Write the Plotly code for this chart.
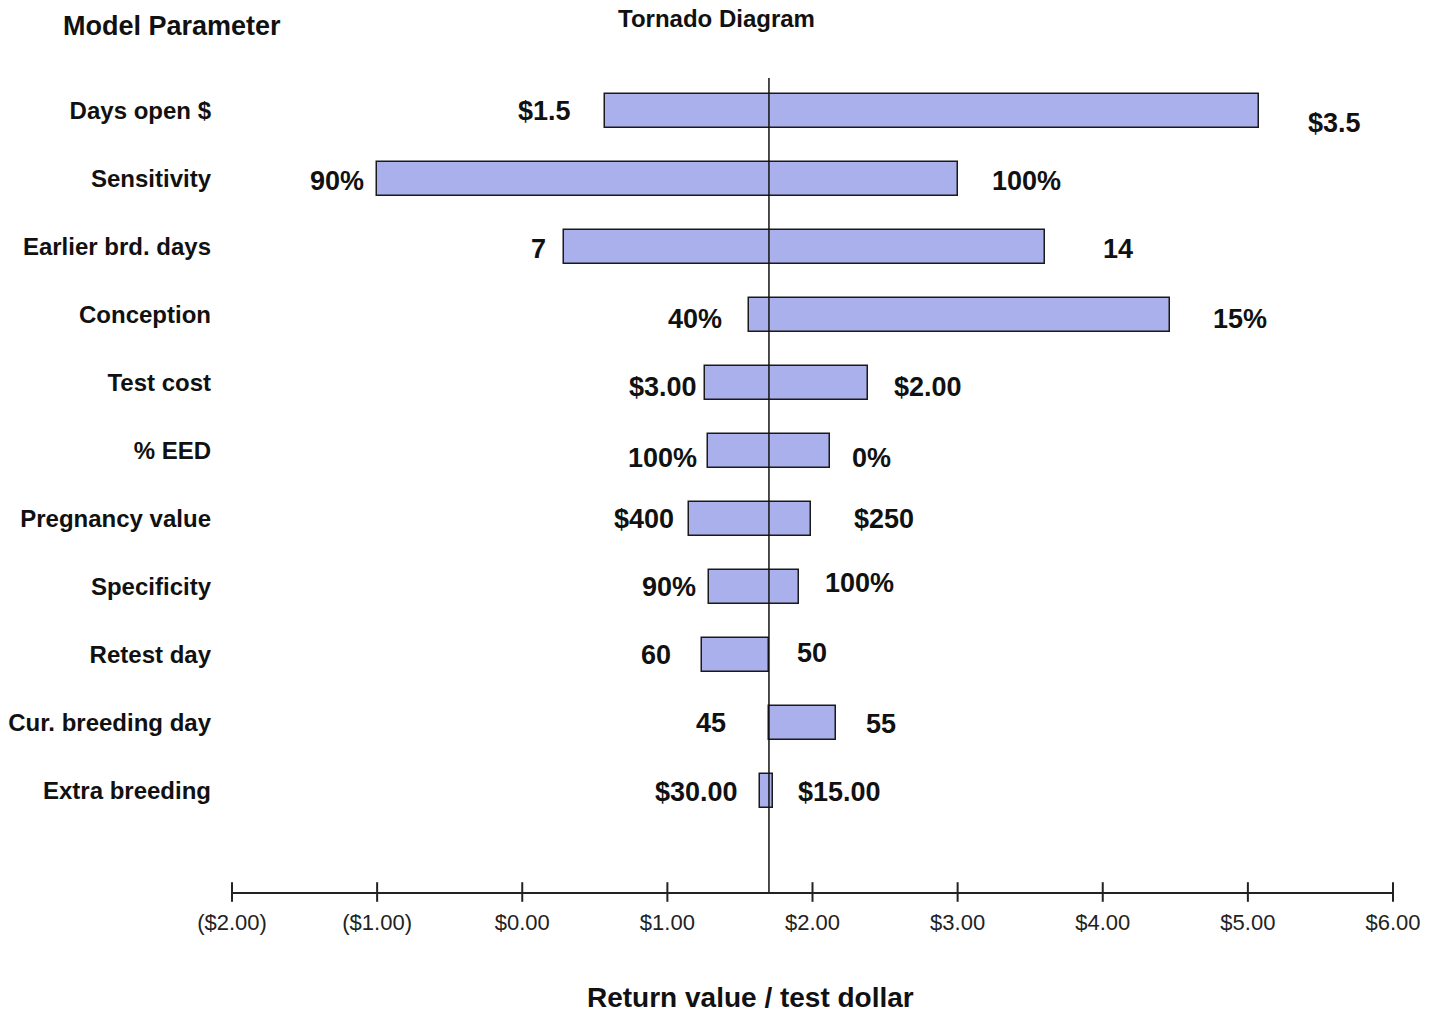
import plotly.graph_objects as go

# ---------------- data ----------------
parameters = ["Days open $", "Sensitivity", "Earlier brd. days", "Conception", "Test cost",
              "% EED", "Pregnancy value", "Specificity", "Retest day", "Cur. breeding day",
              "Extra breeding"]
left_end = [0.57, -1.00, 0.29, 1.56, 1.26, 1.28, 1.15, 1.29, 1.24, 1.70, 1.64]
right_end = [5.08, 3.00, 3.60, 4.46, 2.38, 2.12, 1.99, 1.91, 1.70, 2.16, 1.73]
left_labels = ["$1.5", "90%", "7", "40%", "$3.00", "100%", "$400", "90%", "60", "45", "$30.00"]
right_labels = ["$3.5", "100%", "14", "15%", "$2.00", "0%", "$250", "100%", "50", "55", "$15.00"]
base_value = 1.70
tick_vals = [-2, -1, 0, 1, 2, 3, 4, 5, 6]
tick_text = ["($2.00)", "($1.00)", "$0.00", "$1.00", "$2.00", "$3.00", "$4.00", "$5.00", "$6.00"]

# ---------------- styles (label offsets in px) ----------------
left_gap = [32, 11, 16, 25, 6, 9, 13, 11, 29, 41, 20]
left_dy = [0, 2, 2, 4, 4, 7, 0, 0, 0, 0, 1]
right_gap = [47, 32, 56, 41, 24, 20, 41, 24, 26, 28, 23]
right_dy = [12, 2, 2, 4, 4, 7, 0, -4, -2, 1, 1]

FONT = "Liberation Sans, Arial, Helvetica, sans-serif"

fig = go.Figure()
fig.add_trace(go.Bar(
    y=parameters,
    x=[r - l for l, r in zip(left_end, right_end)],
    base=left_end,
    orientation="h",
    width=0.49,
    marker=dict(color="#AAB0EB", line=dict(color="#1a1a1a", width=1.5)),
    showlegend=False,
    hoverinfo="skip",
))

# crossing tick marks on the x axis line (drawn on a hidden helper y axis)
fig.add_trace(go.Scatter(
    x=tick_vals, y=[0] * len(tick_vals), xaxis="x", yaxis="y2",
    mode="markers", cliponaxis=False,
    marker=dict(symbol="line-ns-open", size=14, color="#222222",
                line=dict(color="#222222", width=2)),
    showlegend=False, hoverinfo="skip",
))

annotations = []
for i, p in enumerate(parameters):
    annotations.append(dict(
        x=left_end[i], y=p, xref="x", yref="y", text=left_labels[i],
        xanchor="right", yanchor="middle", showarrow=False,
        xshift=-left_gap[i], yshift=-left_dy[i],
        font=dict(family=FONT, size=27, color="#111111", weight="bold"),
    ))
    annotations.append(dict(
        x=right_end[i], y=p, xref="x", yref="y", text=right_labels[i],
        xanchor="left", yanchor="middle", showarrow=False,
        xshift=right_gap[i], yshift=-right_dy[i],
        font=dict(family=FONT, size=27, color="#111111", weight="bold"),
    ))

annotations += [
    dict(x=-0.1473, y=1.0639, xref="paper", yref="paper", text="Model Parameter",
         xanchor="left", yanchor="middle", showarrow=False,
         font=dict(family=FONT, size=27, color="#111111", weight="bold")),
    dict(x=0.4169, y=1.0725, xref="paper", yref="paper", text="Tornado Diagram",
         xanchor="center", yanchor="middle", showarrow=False,
         font=dict(family=FONT, size=24, color="#111111", weight="bold")),
    dict(x=0.4462, y=-0.130, xref="paper", yref="paper", text="Return value / test dollar",
         xanchor="center", yanchor="middle", showarrow=False,
         font=dict(family=FONT, size=28, color="#111111", weight="bold")),
]

fig.add_shape(type="line", x0=base_value, x1=base_value, xref="x", y0=0, y1=1, yref="paper",
              line=dict(color="#111111", width=1.5), layer="above")

n = len(parameters)
fig.update_layout(
    width=1434, height=1013,
    margin=dict(l=232, r=41, t=78, b=121),
    paper_bgcolor="white", plot_bgcolor="white",
    font=dict(family=FONT, color="#111111"),
    bargap=0,
    annotations=annotations,
    xaxis=dict(
        range=[-2, 6], tickvals=tick_vals, ticktext=tick_text,
        showgrid=False, zeroline=False, automargin=False,
        showline=True, linecolor="#222222", linewidth=2,
        ticks="outside", ticklen=7, tickwidth=2, tickcolor="rgba(0,0,0,0)",
        ticklabelstandoff=3,
        tickfont=dict(family=FONT, size=22, color="#222222"),
    ),
    yaxis=dict(
        type="category", categoryorder="array", categoryarray=parameters,
        range=[n - 1 + 1.485, -0.485],
        showgrid=False, zeroline=False, showline=False, ticks="",
        ticklabelstandoff=20, automargin=False,
        tickfont=dict(family=FONT, size=24, color="#111111", weight="bold"),
    ),
    yaxis2=dict(
        range=[0, 1], overlaying="y", anchor="x", side="right",
        visible=False, showgrid=False, zeroline=False, automargin=False,
    ),
)

fig.write_html("out.html")
